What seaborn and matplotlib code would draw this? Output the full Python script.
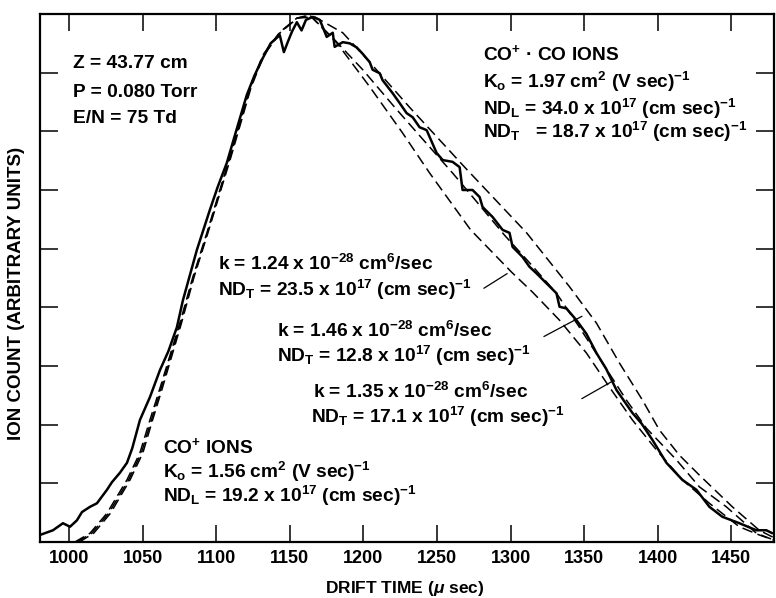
import matplotlib
matplotlib.use("Agg")
import matplotlib.pyplot as plt
import seaborn as sns
import numpy as np
import pandas as pd

# ---------------- data ----------------
measured_t = [980.3, 989.1, 995.9, 1000.7, 1005.4, 1008.8, 1014.3, 1019.0, 1025.8, 1029.2,
              1034.6, 1039.4, 1043.0, 1048.2, 1055.0, 1061.8, 1067.5, 1073.3, 1077.4, 1086.9,
              1095.7, 1101.0, 1107.2, 1113.5, 1120.8, 1126.0, 1131.7, 1137.0, 1143.2, 1146.0,
              1148.6, 1151.5, 1154.8, 1158.0, 1161.0, 1165.6, 1170.4, 1175.1, 1179.2, 1180.5,
              1186.0, 1190.7, 1195.5, 1199.6, 1204.3, 1206.3, 1211.1, 1213.1, 1219.9, 1224.7,
              1229.4, 1233.5, 1238.2, 1243.0, 1249.8, 1253.9, 1260.6, 1265.4, 1267.4, 1274.2,
              1279.0, 1281.0, 1287.8, 1294.6, 1299.3, 1301.4, 1308.1, 1312.9, 1317.6, 1324.4,
              1331.2, 1333.3, 1338.0, 1344.8, 1351.5, 1358.4, 1365.0, 1372.0, 1382.8, 1389.0,
              1396.4, 1405.9, 1416.7, 1426.3, 1435.1, 1443.9, 1455.5, 1467.0, 1473.8, 1477.8]
measured_y = [0.12, 0.20, 0.32, 0.26, 0.37, 0.51, 0.60, 0.66, 0.89, 1.02,
              1.18, 1.35, 1.60, 2.08, 2.47, 2.93, 3.25, 3.66, 4.12, 4.98,
              5.66, 6.05, 6.46, 7.00, 7.62, 7.95, 8.25, 8.50, 8.64, 8.35,
              8.52, 8.70, 8.86, 8.72, 8.90, 8.95, 8.90, 8.61, 8.68, 8.44,
              8.52, 8.50, 8.43, 8.32, 8.18, 8.05, 7.99, 7.87, 7.65, 7.48,
              7.31, 7.24, 7.07, 7.02, 6.63, 6.51, 6.48, 6.39, 6.00, 6.00,
              5.88, 5.71, 5.54, 5.32, 5.27, 5.03, 4.86, 4.69, 4.58, 4.41,
              4.24, 4.01, 3.98, 3.78, 3.55, 3.22, 2.95, 2.59, 2.20, 2.02,
              1.74, 1.35, 1.06, 0.89, 0.60, 0.43, 0.32, 0.20, 0.20, 0.15]

# calculated profiles (dashed)
k124_t = [1004.0, 1014.3, 1025.8, 1039.4, 1048.2, 1055.0, 1061.8, 1075.3, 1084.2, 1093.7,
          1102.5, 1109.3, 1122.9, 1131.7, 1143.2, 1154.8, 1163.6, 1181.9, 1204.3, 1226.7,
          1245.0, 1272.9, 1300.7, 1314.9, 1333.3, 1351.6, 1367.2, 1382.8, 1399.1, 1416.7,
          1435.1, 1455.4, 1469.0, 1479.2]
k124_y = [0.00, 0.15, 0.49, 1.06, 1.52, 2.08, 2.62, 3.73, 4.52, 5.27,
          6.00, 6.56, 7.74, 8.30, 8.69, 8.93, 8.98, 8.51, 7.76, 6.97,
          6.29, 5.32, 4.60, 4.26, 3.78, 3.22, 2.64, 2.08, 1.57, 1.06,
          0.66, 0.26, 0.12, 0.03]

k135_t = [1005.5, 1015.5, 1027.0, 1040.5, 1049.2, 1056.0, 1062.6, 1075.8, 1084.6, 1094.0,
          1102.8, 1109.6, 1123.2, 1132.0, 1143.5, 1155.0, 1163.6, 1180.5, 1199.6, 1221.3,
          1241.6, 1260.6, 1279.0, 1295.9, 1312.9, 1331.2, 1346.8, 1362.5, 1378.7, 1392.3,
          1412.7, 1428.3, 1446.6, 1467.0, 1479.2]
k135_y = [0.00, 0.15, 0.49, 1.06, 1.52, 2.08, 2.62, 3.73, 4.52, 5.27,
          6.00, 6.56, 7.74, 8.30, 8.69, 8.93, 8.98, 8.56, 8.05, 7.41,
          6.83, 6.29, 5.74, 5.23, 4.76, 4.24, 3.66, 3.05, 2.42, 1.94,
          1.40, 0.94, 0.60, 0.15, 0.03]

k146_t = [1007.0, 1016.8, 1028.2, 1041.5, 1050.2, 1056.8, 1063.4, 1076.4, 1085.0, 1094.4,
          1103.2, 1110.0, 1123.6, 1132.4, 1143.8, 1155.3, 1167.0, 1186.0, 1204.3, 1231.4,
          1268.8, 1310.9, 1340.1, 1358.4, 1374.0, 1389.6, 1401.1, 1414.7, 1428.3, 1450.7,
          1469.0, 1479.2]
k146_y = [0.00, 0.15, 0.49, 1.06, 1.52, 2.08, 2.62, 3.73, 4.52, 5.27,
          6.00, 6.56, 7.74, 8.30, 8.69, 8.93, 8.95, 8.68, 8.18, 7.41,
          6.39, 5.27, 4.35, 3.73, 3.05, 2.42, 1.91, 1.48, 1.14, 0.60,
          0.20, 0.07]

x_ticks = [1000, 1050, 1100, 1150, 1200, 1250, 1300, 1350, 1400, 1450]
y_ticks = [0, 1, 2, 3, 4, 5, 6, 7, 8, 9]

# ---------------- styling ----------------
sns.set_theme(style="white")
plt.rcParams["font.family"] = ["Liberation Sans", "DejaVu Sans"]
plt.rcParams["font.weight"] = "bold"
plt.rcParams["text.color"] = "black"
plt.rcParams["axes.labelcolor"] = "black"
plt.rcParams["xtick.color"] = "black"
plt.rcParams["ytick.color"] = "black"
plt.rcParams["mathtext.fontset"] = "custom"
plt.rcParams["mathtext.rm"] = "Liberation Sans:bold"
plt.rcParams["mathtext.it"] = "Liberation Sans:bold:italic"
plt.rcParams["mathtext.bf"] = "Liberation Sans:bold"
plt.rcParams["mathtext.default"] = "rm"

W, H = 776, 598
fig = plt.figure(figsize=(W / 100, H / 100), dpi=100)
fig.patch.set_facecolor("white")
ax = fig.add_axes([40 / W, 1 - 542 / H, (774 - 40) / W, (542 - 14) / H])
ax.set_facecolor("white")

meas = pd.DataFrame({"t": measured_t, "y": measured_y})
sns.lineplot(data=meas, x="t", y="y", ax=ax, color="black", lw=1.8,
             estimator=None, sort=False)
for tt, yy in [(k124_t, k124_y), (k135_t, k135_y), (k146_t, k146_y)]:
    d = pd.DataFrame({"t": tt, "y": yy})
    sns.lineplot(data=d, x="t", y="y", ax=ax, color="black", lw=1.1,
                 estimator=None, sort=False, dashes=False)
for ln in ax.lines[1:]:
    ln.set_dashes((7, 3.5))

ax.set_xlim(980.3, 1479)
ax.set_ylim(0, 9)
ax.set_xticks(x_ticks)
ax.set_xticklabels([str(v) for v in x_ticks], fontsize=13, fontweight="bold",
                   color="black")
ax.set_yticks(y_ticks)
ax.set_yticklabels([])
ax.tick_params(axis="both", direction="in", length=12, width=1.1, color="black",
               labelcolor="black", top=True, right=True, bottom=True, left=True, pad=6)
ax.tick_params(axis="y", length=13)
for s in ax.spines.values():
    s.set_visible(True)
    s.set_color("black")
    s.set_linewidth(1.6)
ax.set_xlabel("")
ax.set_ylabel("")

fig.text(405 / W, 1 - 593 / H, r"DRIFT TIME ($\mathit{\mu}$ sec)", ha="center",
         va="baseline", fontsize=12.5, fontweight="bold", color="black")
fig.text(17 / W, 1 - 293 / H, "ION COUNT (ARBITRARY UNITS)", ha="center", va="center",
         rotation=90, fontsize=13.5, fontweight="bold", color="black")

FS = 13.8


def ftxt(px, py, s, fs=FS):
    fig.text(px / W, 1 - py / H, s, ha="left", va="baseline", fontsize=fs,
             fontweight="bold", color="black")


ftxt(73, 68, "Z = 43.77 cm")
ftxt(73, 97, "P = 0.080 Torr")
ftxt(73, 123, "E/N = 75 Td")

ftxt(483, 60, r"CO$^{+}$ · CO IONS")
ftxt(483, 88, r"K$_{\rm o}$ = 1.97 cm$^{2}$ (V sec)$^{-1}$")
ftxt(483, 115, r"ND$_{\rm L}$ = 34.0 x 10$^{17}$ (cm sec)$^{-1}$")
ftxt(483, 138, r"ND$_{\rm T}$   = 18.7 x 10$^{17}$ (cm sec)$^{-1}$")

ftxt(218, 270, r"k = 1.24 x 10$^{-28}$ cm$^{6}$/sec")
ftxt(218, 296, r"ND$_{\rm T}$ = 23.5 x 10$^{17}$ (cm sec)$^{-1}$")
ftxt(277, 337, r"k = 1.46 x 10$^{-28}$ cm$^{6}$/sec")
ftxt(277, 362, r"ND$_{\rm T}$ = 12.8 x 10$^{17}$ (cm sec)$^{-1}$")
ftxt(313, 398, r"k = 1.35 x 10$^{-28}$ cm$^{6}$/sec")
ftxt(311, 423, r"ND$_{\rm T}$ = 17.1 x 10$^{17}$ (cm sec)$^{-1}$")

ftxt(163, 453, r"CO$^{+}$ IONS")
ftxt(163, 478, r"K$_{\rm o}$ = 1.56 cm$^{2}$ (V sec)$^{-1}$")
ftxt(163, 502, r"ND$_{\rm L}$ = 19.2 x 10$^{17}$ (cm sec)$^{-1}$")

# leader lines
for (x0, y0), (x1, y1) in [((1280.3, 4.30), (1299.3, 4.60)),
                           ((1321.0, 3.48), (1350.2, 3.87)),
                           ((1346.8, 2.42), (1370.6, 2.76))]:
    ax.annotate("", xy=(x1, y1), xytext=(x0, y0),
                arrowprops=dict(arrowstyle="-", color="black", lw=0.9))

fig.savefig("out.png", dpi=100, facecolor="white")
